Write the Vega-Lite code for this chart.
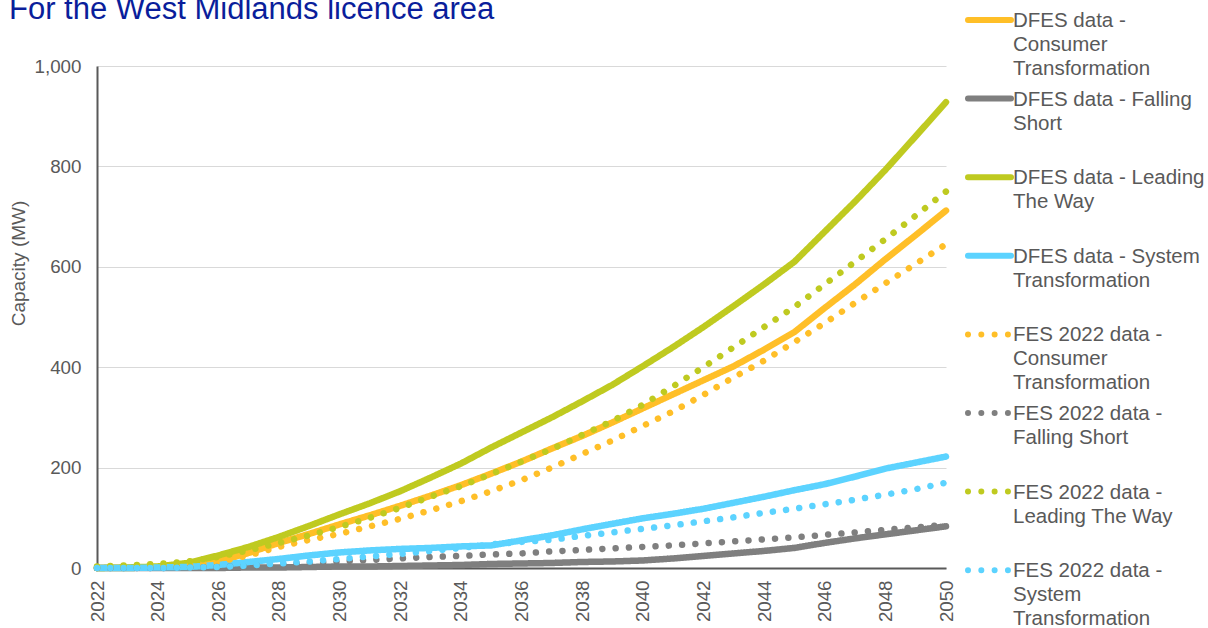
{
  "$schema": "https://vega.github.io/schema/vega-lite/v6.json",
  "width": 849,
  "height": 502,
  "autosize": {"type": "none"},
  "padding": {"left": 97, "top": 66, "right": 262, "bottom": 60},
  "background": "white",
  "config": {"font": "Liberation Sans", "view": {"stroke": null}},
  "title": {
    "text": "For the West Midlands licence area",
    "anchor": "start",
    "fontSize": 31,
    "fontWeight": "normal",
    "color": "#0A1E9B",
    "offset": 0,
    "dy": 15
  },
  "data": {
    "values": [
      {"s":"DFES data - Consumer Transformation","x":2022,"v":0},{"s":"DFES data - Consumer Transformation","x":2023,"v":0},{"s":"DFES data - Consumer Transformation","x":2024,"v":1},{"s":"DFES data - Consumer Transformation","x":2025,"v":4},{"s":"DFES data - Consumer Transformation","x":2026,"v":13},{"s":"DFES data - Consumer Transformation","x":2027,"v":30},{"s":"DFES data - Consumer Transformation","x":2028,"v":50},{"s":"DFES data - Consumer Transformation","x":2029,"v":68},{"s":"DFES data - Consumer Transformation","x":2030,"v":87},{"s":"DFES data - Consumer Transformation","x":2031,"v":105},{"s":"DFES data - Consumer Transformation","x":2032,"v":124},{"s":"DFES data - Consumer Transformation","x":2033,"v":144},{"s":"DFES data - Consumer Transformation","x":2034,"v":165},{"s":"DFES data - Consumer Transformation","x":2035,"v":188},{"s":"DFES data - Consumer Transformation","x":2036,"v":212},{"s":"DFES data - Consumer Transformation","x":2037,"v":238},{"s":"DFES data - Consumer Transformation","x":2038,"v":263},{"s":"DFES data - Consumer Transformation","x":2039,"v":290},{"s":"DFES data - Consumer Transformation","x":2040,"v":318},{"s":"DFES data - Consumer Transformation","x":2041,"v":346},{"s":"DFES data - Consumer Transformation","x":2042,"v":374},{"s":"DFES data - Consumer Transformation","x":2043,"v":402},{"s":"DFES data - Consumer Transformation","x":2044,"v":435},{"s":"DFES data - Consumer Transformation","x":2045,"v":470},{"s":"DFES data - Consumer Transformation","x":2046,"v":518},{"s":"DFES data - Consumer Transformation","x":2047,"v":565},{"s":"DFES data - Consumer Transformation","x":2048,"v":615},{"s":"DFES data - Consumer Transformation","x":2049,"v":663},{"s":"DFES data - Consumer Transformation","x":2050,"v":712},
      {"s":"DFES data - Falling Short","x":2022,"v":0},{"s":"DFES data - Falling Short","x":2023,"v":0},{"s":"DFES data - Falling Short","x":2024,"v":0},{"s":"DFES data - Falling Short","x":2025,"v":0},{"s":"DFES data - Falling Short","x":2026,"v":0},{"s":"DFES data - Falling Short","x":2027,"v":1},{"s":"DFES data - Falling Short","x":2028,"v":1},{"s":"DFES data - Falling Short","x":2029,"v":2},{"s":"DFES data - Falling Short","x":2030,"v":3},{"s":"DFES data - Falling Short","x":2031,"v":3},{"s":"DFES data - Falling Short","x":2032,"v":4},{"s":"DFES data - Falling Short","x":2033,"v":5},{"s":"DFES data - Falling Short","x":2034,"v":6},{"s":"DFES data - Falling Short","x":2035,"v":8},{"s":"DFES data - Falling Short","x":2036,"v":9},{"s":"DFES data - Falling Short","x":2037,"v":10},{"s":"DFES data - Falling Short","x":2038,"v":12},{"s":"DFES data - Falling Short","x":2039,"v":13},{"s":"DFES data - Falling Short","x":2040,"v":15},{"s":"DFES data - Falling Short","x":2041,"v":19},{"s":"DFES data - Falling Short","x":2042,"v":24},{"s":"DFES data - Falling Short","x":2043,"v":29},{"s":"DFES data - Falling Short","x":2044,"v":34},{"s":"DFES data - Falling Short","x":2045,"v":40},{"s":"DFES data - Falling Short","x":2046,"v":50},{"s":"DFES data - Falling Short","x":2047,"v":59},{"s":"DFES data - Falling Short","x":2048,"v":67},{"s":"DFES data - Falling Short","x":2049,"v":75},{"s":"DFES data - Falling Short","x":2050,"v":83},
      {"s":"DFES data - Leading The Way","x":2022,"v":0},{"s":"DFES data - Leading The Way","x":2023,"v":1},{"s":"DFES data - Leading The Way","x":2024,"v":3},{"s":"DFES data - Leading The Way","x":2025,"v":10},{"s":"DFES data - Leading The Way","x":2026,"v":25},{"s":"DFES data - Leading The Way","x":2027,"v":42},{"s":"DFES data - Leading The Way","x":2028,"v":62},{"s":"DFES data - Leading The Way","x":2029,"v":84},{"s":"DFES data - Leading The Way","x":2030,"v":107},{"s":"DFES data - Leading The Way","x":2031,"v":129},{"s":"DFES data - Leading The Way","x":2032,"v":153},{"s":"DFES data - Leading The Way","x":2033,"v":180},{"s":"DFES data - Leading The Way","x":2034,"v":208},{"s":"DFES data - Leading The Way","x":2035,"v":240},{"s":"DFES data - Leading The Way","x":2036,"v":270},{"s":"DFES data - Leading The Way","x":2037,"v":300},{"s":"DFES data - Leading The Way","x":2038,"v":332},{"s":"DFES data - Leading The Way","x":2039,"v":365},{"s":"DFES data - Leading The Way","x":2040,"v":402},{"s":"DFES data - Leading The Way","x":2041,"v":440},{"s":"DFES data - Leading The Way","x":2042,"v":480},{"s":"DFES data - Leading The Way","x":2043,"v":522},{"s":"DFES data - Leading The Way","x":2044,"v":565},{"s":"DFES data - Leading The Way","x":2045,"v":610},{"s":"DFES data - Leading The Way","x":2046,"v":670},{"s":"DFES data - Leading The Way","x":2047,"v":730},{"s":"DFES data - Leading The Way","x":2048,"v":793},{"s":"DFES data - Leading The Way","x":2049,"v":860},{"s":"DFES data - Leading The Way","x":2050,"v":928},
      {"s":"DFES data - System Transformation","x":2022,"v":0},{"s":"DFES data - System Transformation","x":2023,"v":0},{"s":"DFES data - System Transformation","x":2024,"v":1},{"s":"DFES data - System Transformation","x":2025,"v":2},{"s":"DFES data - System Transformation","x":2026,"v":6},{"s":"DFES data - System Transformation","x":2027,"v":12},{"s":"DFES data - System Transformation","x":2028,"v":18},{"s":"DFES data - System Transformation","x":2029,"v":25},{"s":"DFES data - System Transformation","x":2030,"v":31},{"s":"DFES data - System Transformation","x":2031,"v":35},{"s":"DFES data - System Transformation","x":2032,"v":38},{"s":"DFES data - System Transformation","x":2033,"v":40},{"s":"DFES data - System Transformation","x":2034,"v":43},{"s":"DFES data - System Transformation","x":2035,"v":45},{"s":"DFES data - System Transformation","x":2036,"v":55},{"s":"DFES data - System Transformation","x":2037,"v":65},{"s":"DFES data - System Transformation","x":2038,"v":77},{"s":"DFES data - System Transformation","x":2039,"v":88},{"s":"DFES data - System Transformation","x":2040,"v":99},{"s":"DFES data - System Transformation","x":2041,"v":108},{"s":"DFES data - System Transformation","x":2042,"v":118},{"s":"DFES data - System Transformation","x":2043,"v":130},{"s":"DFES data - System Transformation","x":2044,"v":142},{"s":"DFES data - System Transformation","x":2045,"v":155},{"s":"DFES data - System Transformation","x":2046,"v":167},{"s":"DFES data - System Transformation","x":2047,"v":182},{"s":"DFES data - System Transformation","x":2048,"v":198},{"s":"DFES data - System Transformation","x":2049,"v":210},{"s":"DFES data - System Transformation","x":2050,"v":222},
      {"s":"FES 2022 data - Consumer Transformation","x":2022,"v":0},{"s":"FES 2022 data - Consumer Transformation","x":2023,"v":1},{"s":"FES 2022 data - Consumer Transformation","x":2024,"v":3},{"s":"FES 2022 data - Consumer Transformation","x":2025,"v":5},{"s":"FES 2022 data - Consumer Transformation","x":2026,"v":12},{"s":"FES 2022 data - Consumer Transformation","x":2027,"v":25},{"s":"FES 2022 data - Consumer Transformation","x":2028,"v":42},{"s":"FES 2022 data - Consumer Transformation","x":2029,"v":56},{"s":"FES 2022 data - Consumer Transformation","x":2030,"v":68},{"s":"FES 2022 data - Consumer Transformation","x":2031,"v":83},{"s":"FES 2022 data - Consumer Transformation","x":2032,"v":98},{"s":"FES 2022 data - Consumer Transformation","x":2033,"v":115},{"s":"FES 2022 data - Consumer Transformation","x":2034,"v":133},{"s":"FES 2022 data - Consumer Transformation","x":2035,"v":153},{"s":"FES 2022 data - Consumer Transformation","x":2036,"v":175},{"s":"FES 2022 data - Consumer Transformation","x":2037,"v":200},{"s":"FES 2022 data - Consumer Transformation","x":2038,"v":227},{"s":"FES 2022 data - Consumer Transformation","x":2039,"v":254},{"s":"FES 2022 data - Consumer Transformation","x":2040,"v":283},{"s":"FES 2022 data - Consumer Transformation","x":2041,"v":312},{"s":"FES 2022 data - Consumer Transformation","x":2042,"v":345},{"s":"FES 2022 data - Consumer Transformation","x":2043,"v":380},{"s":"FES 2022 data - Consumer Transformation","x":2044,"v":413},{"s":"FES 2022 data - Consumer Transformation","x":2045,"v":450},{"s":"FES 2022 data - Consumer Transformation","x":2046,"v":488},{"s":"FES 2022 data - Consumer Transformation","x":2047,"v":528},{"s":"FES 2022 data - Consumer Transformation","x":2048,"v":567},{"s":"FES 2022 data - Consumer Transformation","x":2049,"v":606},{"s":"FES 2022 data - Consumer Transformation","x":2050,"v":645},
      {"s":"FES 2022 data - Falling Short","x":2022,"v":0},{"s":"FES 2022 data - Falling Short","x":2023,"v":0},{"s":"FES 2022 data - Falling Short","x":2024,"v":0},{"s":"FES 2022 data - Falling Short","x":2025,"v":1},{"s":"FES 2022 data - Falling Short","x":2026,"v":2},{"s":"FES 2022 data - Falling Short","x":2027,"v":4},{"s":"FES 2022 data - Falling Short","x":2028,"v":7},{"s":"FES 2022 data - Falling Short","x":2029,"v":10},{"s":"FES 2022 data - Falling Short","x":2030,"v":13},{"s":"FES 2022 data - Falling Short","x":2031,"v":16},{"s":"FES 2022 data - Falling Short","x":2032,"v":19},{"s":"FES 2022 data - Falling Short","x":2033,"v":22},{"s":"FES 2022 data - Falling Short","x":2034,"v":24},{"s":"FES 2022 data - Falling Short","x":2035,"v":27},{"s":"FES 2022 data - Falling Short","x":2036,"v":29},{"s":"FES 2022 data - Falling Short","x":2037,"v":33},{"s":"FES 2022 data - Falling Short","x":2038,"v":36},{"s":"FES 2022 data - Falling Short","x":2039,"v":39},{"s":"FES 2022 data - Falling Short","x":2040,"v":42},{"s":"FES 2022 data - Falling Short","x":2041,"v":45},{"s":"FES 2022 data - Falling Short","x":2042,"v":49},{"s":"FES 2022 data - Falling Short","x":2043,"v":53},{"s":"FES 2022 data - Falling Short","x":2044,"v":57},{"s":"FES 2022 data - Falling Short","x":2045,"v":61},{"s":"FES 2022 data - Falling Short","x":2046,"v":66},{"s":"FES 2022 data - Falling Short","x":2047,"v":71},{"s":"FES 2022 data - Falling Short","x":2048,"v":76},{"s":"FES 2022 data - Falling Short","x":2049,"v":81},{"s":"FES 2022 data - Falling Short","x":2050,"v":86},
      {"s":"FES 2022 data - Leading The Way","x":2022,"v":3},{"s":"FES 2022 data - Leading The Way","x":2023,"v":5},{"s":"FES 2022 data - Leading The Way","x":2024,"v":8},{"s":"FES 2022 data - Leading The Way","x":2025,"v":13},{"s":"FES 2022 data - Leading The Way","x":2026,"v":22},{"s":"FES 2022 data - Leading The Way","x":2027,"v":35},{"s":"FES 2022 data - Leading The Way","x":2028,"v":50},{"s":"FES 2022 data - Leading The Way","x":2029,"v":65},{"s":"FES 2022 data - Leading The Way","x":2030,"v":82},{"s":"FES 2022 data - Leading The Way","x":2031,"v":100},{"s":"FES 2022 data - Leading The Way","x":2032,"v":120},{"s":"FES 2022 data - Leading The Way","x":2033,"v":142},{"s":"FES 2022 data - Leading The Way","x":2034,"v":163},{"s":"FES 2022 data - Leading The Way","x":2035,"v":187},{"s":"FES 2022 data - Leading The Way","x":2036,"v":212},{"s":"FES 2022 data - Leading The Way","x":2037,"v":237},{"s":"FES 2022 data - Leading The Way","x":2038,"v":265},{"s":"FES 2022 data - Leading The Way","x":2039,"v":293},{"s":"FES 2022 data - Leading The Way","x":2040,"v":325},{"s":"FES 2022 data - Leading The Way","x":2041,"v":362},{"s":"FES 2022 data - Leading The Way","x":2042,"v":400},{"s":"FES 2022 data - Leading The Way","x":2043,"v":440},{"s":"FES 2022 data - Leading The Way","x":2044,"v":480},{"s":"FES 2022 data - Leading The Way","x":2045,"v":520},{"s":"FES 2022 data - Leading The Way","x":2046,"v":565},{"s":"FES 2022 data - Leading The Way","x":2047,"v":610},{"s":"FES 2022 data - Leading The Way","x":2048,"v":655},{"s":"FES 2022 data - Leading The Way","x":2049,"v":702},{"s":"FES 2022 data - Leading The Way","x":2050,"v":750},
      {"s":"FES 2022 data - System Transformation","x":2022,"v":0},{"s":"FES 2022 data - System Transformation","x":2023,"v":0},{"s":"FES 2022 data - System Transformation","x":2024,"v":0},{"s":"FES 2022 data - System Transformation","x":2025,"v":1},{"s":"FES 2022 data - System Transformation","x":2026,"v":2},{"s":"FES 2022 data - System Transformation","x":2027,"v":5},{"s":"FES 2022 data - System Transformation","x":2028,"v":9},{"s":"FES 2022 data - System Transformation","x":2029,"v":13},{"s":"FES 2022 data - System Transformation","x":2030,"v":18},{"s":"FES 2022 data - System Transformation","x":2031,"v":23},{"s":"FES 2022 data - System Transformation","x":2032,"v":28},{"s":"FES 2022 data - System Transformation","x":2033,"v":34},{"s":"FES 2022 data - System Transformation","x":2034,"v":40},{"s":"FES 2022 data - System Transformation","x":2035,"v":47},{"s":"FES 2022 data - System Transformation","x":2036,"v":52},{"s":"FES 2022 data - System Transformation","x":2037,"v":56},{"s":"FES 2022 data - System Transformation","x":2038,"v":64},{"s":"FES 2022 data - System Transformation","x":2039,"v":71},{"s":"FES 2022 data - System Transformation","x":2040,"v":78},{"s":"FES 2022 data - System Transformation","x":2041,"v":85},{"s":"FES 2022 data - System Transformation","x":2042,"v":93},{"s":"FES 2022 data - System Transformation","x":2043,"v":101},{"s":"FES 2022 data - System Transformation","x":2044,"v":110},{"s":"FES 2022 data - System Transformation","x":2045,"v":118},{"s":"FES 2022 data - System Transformation","x":2046,"v":127},{"s":"FES 2022 data - System Transformation","x":2047,"v":136},{"s":"FES 2022 data - System Transformation","x":2048,"v":146},{"s":"FES 2022 data - System Transformation","x":2049,"v":157},{"s":"FES 2022 data - System Transformation","x":2050,"v":170}
    ]
  },
  "mark": {"type": "line", "strokeWidth": 6.5, "strokeCap": "round", "strokeJoin": "round"},
  "encoding": {
    "x": {
      "field": "x", "type": "quantitative",
      "scale": {"domain": [2022, 2050], "nice": false, "zero": false},
      "axis": {
        "title": null,
        "values": [2022, 2024, 2026, 2028, 2030, 2032, 2034, 2036, 2038, 2040, 2042, 2044, 2046, 2048, 2050],
        "format": "d", "labelAngle": 270, "labelPadding": 12, "labelFlush": false, "labelOverlap": false,
        "ticks": false, "grid": false, "domainColor": "#595959", "domainWidth": 2,
        "labelFontSize": 18.7, "labelColor": "#595959"
      }
    },
    "y": {
      "field": "v", "type": "quantitative",
      "scale": {"domain": [0, 1000], "nice": false},
      "axis": {
        "title": "Capacity (MW)",
        "values": [0, 200, 400, 600, 800, 1000],
        "format": ",d", "labelPadding": 16, "labelFlush": false, "labelOverlap": false,
        "ticks": false, "grid": true, "gridColor": "#D9D9D9", "gridWidth": 1,
        "domainColor": "#595959", "domainWidth": 2,
        "labelFontSize": 18.8, "labelColor": "#595959",
        "titleFontSize": 19, "titleFontWeight": "normal", "titleColor": "#595959",
        "titleX": -79, "titleY": 197, "titleBaseline": "middle", "titleAlign": "center"
      }
    },
    "color": {
      "field": "s", "type": "nominal", "sort": null,
      "scale": {
        "domain": ["DFES data - Consumer Transformation", "DFES data - Falling Short", "DFES data - Leading The Way", "DFES data - System Transformation", "FES 2022 data - Consumer Transformation", "FES 2022 data - Falling Short", "FES 2022 data - Leading The Way", "FES 2022 data - System Transformation"],
        "range": ["#FFBF28", "#7F7F7F", "#BFCA20", "#5CD3FF", "#FFBF28", "#7F7F7F", "#BFCA20", "#5CD3FF"]
      },
      "legend": {
        "title": null, "orient": "none", "legendX": 868, "legendY": -55,
        "direction": "vertical", "columns": 1, "padding": 0, "offset": 0,
        "symbolType": "stroke", "symbolSize": 1849, "symbolStrokeWidth": 6,
        "labelFont": "Liberation Sans", "labelFontSize": 20.5, "labelColor": "#595959",
        "labelOffset": -1, "labelLimit": 400, "labelBaseline": "top", "rowPadding": 6.6,
        "labelExpr": "datum.label == 'DFES data - Consumer Transformation' ? ['DFES data -', 'Consumer', 'Transformation'] : datum.label == 'DFES data - Falling Short' ? ['DFES data - Falling', 'Short', ''] : datum.label == 'DFES data - Leading The Way' ? ['DFES data - Leading', 'The Way', ''] : datum.label == 'DFES data - System Transformation' ? ['DFES data - System', 'Transformation', ''] : datum.label == 'FES 2022 data - Consumer Transformation' ? ['FES 2022 data -', 'Consumer', 'Transformation'] : datum.label == 'FES 2022 data - Falling Short' ? ['FES 2022 data -', 'Falling Short', ''] : datum.label == 'FES 2022 data - Leading The Way' ? ['FES 2022 data -', 'Leading The Way', ''] : ['FES 2022 data -', 'System', 'Transformation']",
        "encode": {
          "labels": {"update": {"y": {"value": 0}, "dy": {"value": 0}, "lineHeight": {"value": 24}}},
          "symbols": {"update": {"y": {"value": 9}, "strokeCap": {"value": "round"}, "strokeDash": {"signal": "indexof(datum.value, 'FES 2022') == 0 ? [0.01, 17] : [1, 0]"}}}
        }
      }
    },
    "strokeDash": {
      "field": "s", "type": "nominal", "sort": null, "legend": null,
      "scale": {
        "domain": ["DFES data - Consumer Transformation", "DFES data - Falling Short", "DFES data - Leading The Way", "DFES data - System Transformation", "FES 2022 data - Consumer Transformation", "FES 2022 data - Falling Short", "FES 2022 data - Leading The Way", "FES 2022 data - System Transformation"],
        "range": [[1, 0], [1, 0], [1, 0], [1, 0], [0.01, 13.3], [0.01, 13.3], [0.01, 13.3], [0.01, 13.3]]
      }
    }
  }
}
